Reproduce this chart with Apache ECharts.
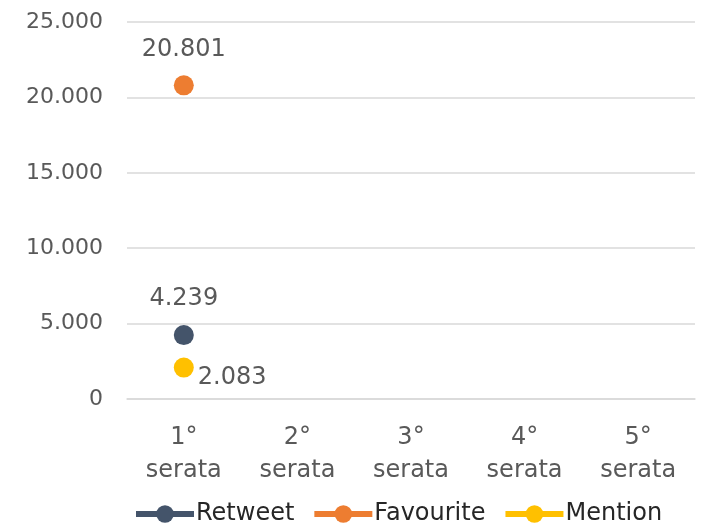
<!DOCTYPE html>
<html>
<head>
<meta charset="utf-8">
<script src="https://cdn.jsdelivr.net/npm/echarts@6/dist/echarts.min.js"></script>
<style>
 html, body { margin: 0; padding: 0; background: #fff; }
 #chart { width: 706px; height: 526px; }
</style>
</head>
<body>
<div id="chart"></div>
<script>
const categories = ['1°\nserata', '2°\nserata', '3°\nserata', '4°\nserata', '5°\nserata']
const retweet = [4239, '-', '-', '-', '-']
const favourite = [20801, '-', '-', '-', '-']
const mention = [2083, '-', '-', '-', '-']

const font = 'DejaVu Sans'
const textColor = '#595959'

// Italian thousands separator
function fmt(v) {
 return String(v).replace(/\B(?=(\d{3})+(?!\d))/g, '.')
}

const chart = echarts.init(document.getElementById('chart'))

function lineSeries(name, data, color, labelPos, offset) {
 return {
 name,
 type: 'line',
 data,
 symbol: 'circle',
 symbolSize: 20,
 itemStyle: { color },
 lineStyle: { color, width: 6 },
 label: {
 show: true,
 position: labelPos,
 offset,
 distance: 14,
 color: textColor,
 fontFamily: font,
 fontSize: 24,
 formatter: p => fmt(p.value),
 },
 }
}

chart.setOption({
 animation: false,
 textStyle: { fontFamily: font },
 grid: { left: 127, right: 11, top: 22, bottom: 127 },
 xAxis: {
 type: 'category',
 data: categories,
 axisLine: { lineStyle: { color: '#D9D9D9', width: 1.5 } },
 axisTick: { show: false },
 axisLabel: {
 color: textColor,
 fontFamily: font,
 fontSize: 24,
 lineHeight: 33,
 margin: 22,
 },
 },
 yAxis: {
 type: 'value',
 min: 0,
 max: 25000,
 interval: 5000,
 axisLine: { show: false },
 axisTick: { show: false },
 splitLine: { lineStyle: { color: '#D9D9D9', width: 1.5 } },
 axisLabel: {
 color: textColor,
 fontFamily: font,
 fontSize: 22,
 margin: 24,
 formatter: v => fmt(v),
 },
 },
 legend: {
 left: 128,
 top: 497,
 itemWidth: 58,
 itemHeight: 22,
 itemGap: 17,
 lineStyle: { width: 6 },
 textStyle: { color: '#262626', fontFamily: font, fontSize: 24, padding: [0, 0, 0, -3] },
 data: ['Retweet', 'Favourite', 'Mention'],
 },
 series: [
 lineSeries('Retweet', retweet, '#44546A', 'top', [0, 0]),
 lineSeries('Favourite', favourite, '#ED7D31', 'top', [0, 0]),
 lineSeries('Mention', mention, '#FFC000', 'right', [-10, 10]),
 ],
})
</script>
</body>
</html>
